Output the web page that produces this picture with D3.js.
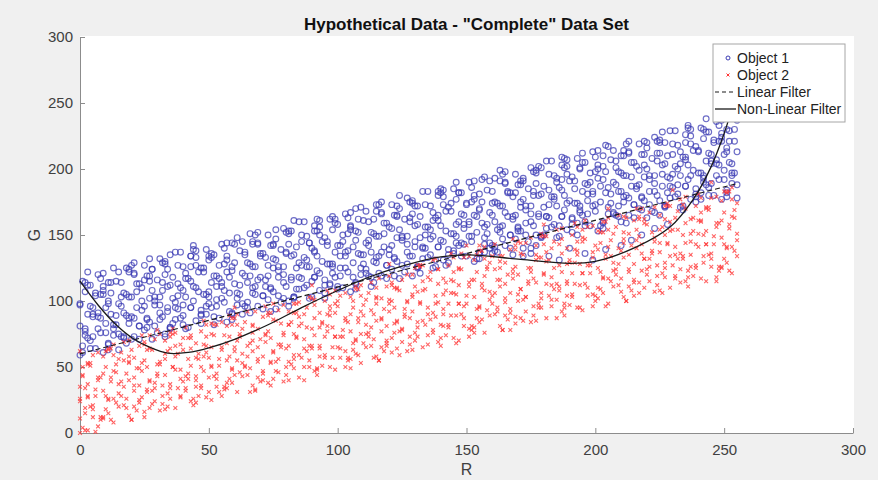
<!DOCTYPE html>
<html>
<head>
<meta charset="utf-8">
<script src="https://cdn.jsdelivr.net/npm/d3@7"></script>
<style>
body { margin: 0; background: #f0f0f0; }
svg { display: block; font-family: "Liberation Sans", Arial, Helvetica, sans-serif; }
</style>
</head>
<body>
<div id="graphdiv"></div>
<script>
document.addEventListener("DOMContentLoaded", init);

var xTicks = [0, 50, 100, 150, 200, 250, 300];
var yTicks = [0, 50, 100, 150, 200, 250, 300];
var legendNames = ["Object 1", "Object 2", "Linear Filter", "Non-Linear Filter"];

// Object 1 (R, G)
var obj1 = [
[0,59],[1,66],[2,74],[0,81],[3,90],[0,98],[2,107],[1,115],
[6,64],[3,72],[7,79],[5,88],[4,96],[6,104],[4,112],[7,120],
[9,61],[11,68],[8,76],[10,83],[7,91],[11,100],[9,108],[8,117],
[11,67],[13,74],[14,82],[12,90],[15,98],[12,106],[14,115],[13,125],
[18,68],[15,75],[19,83],[17,91],[16,96],[18,105],[16,114],[19,122],
[21,73],[23,81],[20,88],[22,95],[19,103],[23,113],[21,121],[20,127],
[23,71],[25,78],[26,86],[24,93],[27,102],[24,110],[26,119],[25,127],
[30,76],[27,84],[31,91],[29,100],[28,108],[30,116],[28,124],[31,132],
[33,73],[35,80],[32,88],[34,95],[31,103],[35,112],[33,120],[32,129],
[35,79],[37,86],[38,94],[36,102],[39,110],[36,118],[38,127],[37,137],
[42,80],[39,87],[43,95],[41,103],[40,108],[42,117],[40,126],[43,134],
[45,85],[47,93],[44,100],[46,107],[43,115],[47,125],[45,133],[44,139],
[47,83],[49,90],[50,98],[48,105],[51,114],[48,122],[50,131],[49,139],
[54,87],[51,95],[55,102],[53,111],[52,119],[54,127],[52,135],[55,143],
[57,84],[59,91],[56,99],[58,106],[55,114],[59,123],[57,131],[56,140],
[59,90],[61,97],[62,105],[60,113],[63,121],[60,129],[62,138],[61,148],
[66,91],[63,98],[67,106],[65,114],[64,119],[66,128],[64,137],[67,145],
[69,96],[71,104],[68,111],[70,118],[67,126],[71,136],[69,144],[68,150],
[71,94],[73,101],[74,109],[72,116],[75,125],[72,133],[74,142],[73,150],
[78,99],[75,107],[79,114],[77,123],[76,131],[78,139],[76,147],[79,155],
[81,96],[83,103],[80,111],[82,118],[79,126],[83,135],[81,143],[80,152],
[83,102],[85,109],[86,117],[84,125],[87,133],[84,141],[86,150],[85,160],
[90,103],[87,110],[91,118],[89,126],[88,131],[90,140],[88,149],[91,157],
[93,108],[95,116],[92,123],[94,130],[91,138],[95,148],[93,156],[92,162],
[95,106],[97,113],[98,121],[96,128],[99,137],[96,145],[98,154],[97,162],
[102,110],[99,118],[103,125],[101,134],[100,142],[102,150],[100,158],[103,166],
[105,107],[107,114],[104,122],[106,129],[103,137],[107,146],[105,154],[104,163],
[107,113],[109,120],[110,128],[108,136],[111,144],[108,152],[110,161],[109,171],
[114,114],[111,121],[115,129],[113,137],[112,142],[114,151],[112,160],[115,168],
[117,119],[119,127],[116,134],[118,141],[115,149],[119,159],[117,167],[116,173],
[119,117],[121,124],[122,132],[120,139],[123,148],[120,156],[122,165],[121,173],
[126,122],[123,130],[127,137],[125,146],[124,154],[126,162],[124,170],[127,178],
[129,119],[131,126],[128,134],[130,141],[127,149],[131,158],[129,166],[128,175],
[131,125],[133,132],[134,140],[132,148],[135,156],[132,164],[134,173],[133,183],
[138,126],[135,133],[139,141],[137,149],[136,154],[138,163],[136,172],[139,180],
[141,131],[143,139],[140,146],[142,153],[139,161],[143,171],[141,179],[140,185],
[143,129],[145,136],[146,144],[144,151],[147,160],[144,168],[146,177],[145,185],
[150,134],[147,142],[151,149],[149,158],[148,166],[150,174],[148,182],[151,190],
[153,130],[155,137],[152,145],[154,152],[151,160],[155,169],[153,177],[152,186],
[155,136],[157,143],[158,151],[156,159],[159,167],[156,175],[158,184],[157,194],
[162,137],[159,144],[163,152],[161,160],[160,165],[162,174],[160,183],[163,191],
[165,142],[167,150],[164,157],[166,164],[163,172],[167,182],[165,190],[164,196],
[167,140],[169,147],[170,155],[168,162],[171,171],[168,179],[170,188],[169,196],
[174,145],[171,153],[175,160],[173,169],[172,177],[174,185],[172,193],[175,201],
[177,142],[179,149],[176,157],[178,164],[175,172],[179,181],[177,189],[176,198],
[179,148],[181,155],[182,163],[180,171],[183,179],[180,187],[182,196],[181,206],
[186,149],[183,156],[187,164],[185,172],[184,177],[186,186],[184,195],[187,203],
[189,154],[191,162],[188,169],[190,176],[187,184],[191,194],[189,202],[188,208],
[191,152],[193,159],[194,167],[192,174],[195,183],[192,191],[194,200],[193,208],
[198,157],[195,165],[199,172],[197,181],[196,189],[198,197],[196,205],[199,213],
[201,153],[203,160],[200,168],[202,175],[199,183],[203,192],[201,200],[200,209],
[203,159],[205,166],[206,174],[204,182],[207,190],[204,198],[206,207],[205,217],
[210,160],[207,167],[211,175],[209,183],[208,188],[210,197],[208,206],[211,214],
[213,165],[215,173],[212,180],[214,187],[211,195],[215,205],[213,213],[212,219],
[215,163],[217,170],[218,178],[216,185],[219,194],[216,202],[218,211],[217,219],
[222,168],[219,176],[223,183],[221,192],[220,200],[222,208],[220,216],[223,224],
[225,165],[227,172],[224,180],[226,187],[223,195],[227,204],[225,212],[224,221],
[227,171],[229,178],[230,186],[228,194],[231,202],[228,210],[230,219],[229,229],
[234,172],[231,179],[235,187],[233,195],[232,200],[234,209],[232,218],[235,226],
[237,177],[239,185],[236,192],[238,199],[235,207],[239,217],[237,225],[236,231],
[239,175],[241,182],[242,190],[240,197],[243,206],[240,214],[242,223],[241,231],
[246,180],[243,188],[247,195],[245,204],[244,212],[246,220],[244,228],[247,236],
[249,177],[251,184],[248,192],[250,199],[247,207],[251,216],[249,224],[248,233],
[251,182],[253,189],[254,197],[252,205],[255,213],[252,221],[254,230],[253,240],
[160,136],[168,135],[172,134],[175,136],[182,134],[186,131],[190,140],[196,136],
[199,131],[204,139],[210,142],[214,146],[218,150],[223,155],[228,158],[157,137]
];

// Object 1, second reading pass
var obj1b = [
[4,64],[2,79],[5,95],[3,112],[5,73],[7,88],[8,105],[9,121],
[11,63],[13,79],[10,95],[9,111],[16,73],[14,89],[17,106],[15,122],
[17,72],[19,87],[20,103],[21,120],[23,81],[25,96],[22,113],[21,129],
[28,71],[26,87],[29,103],[27,119],[29,81],[31,97],[32,114],[33,130],
[35,80],[37,95],[34,111],[33,128],[40,89],[38,104],[41,121],[39,137],
[41,79],[43,95],[44,111],[45,127],[47,89],[49,105],[46,122],[45,138],
[52,88],[50,103],[53,119],[51,136],[53,96],[55,111],[56,128],[57,144],
[59,86],[61,102],[58,118],[57,134],[64,96],[62,112],[65,129],[63,145],
[65,95],[67,110],[68,126],[69,143],[71,104],[73,119],[70,136],[69,152],
[76,94],[74,110],[77,126],[75,142],[77,104],[79,120],[80,137],[81,153],
[83,103],[85,118],[82,134],[81,151],[88,112],[86,127],[89,144],[87,160],
[89,102],[91,118],[92,134],[93,150],[95,112],[97,128],[94,145],[93,161],
[100,111],[98,126],[101,142],[99,159],[101,119],[103,134],[104,151],[105,167],
[107,109],[109,125],[106,141],[105,157],[112,119],[110,135],[113,152],[111,168],
[113,118],[115,133],[116,149],[117,166],[119,127],[121,142],[118,159],[117,175],
[124,117],[122,133],[125,149],[123,165],[125,127],[127,143],[128,160],[129,176],
[131,126],[133,141],[130,157],[129,174],[136,135],[134,150],[137,167],[135,183],
[137,125],[139,141],[140,157],[141,173],[143,135],[145,151],[142,168],[141,184],
[148,134],[146,149],[149,165],[147,182],[149,143],[151,158],[152,175],[153,191],
[155,132],[157,148],[154,164],[153,180],[160,142],[158,158],[161,175],[159,191],
[161,141],[163,156],[164,172],[165,189],[167,150],[169,165],[166,182],[165,198],
[172,140],[170,156],[173,172],[171,188],[173,150],[175,166],[176,183],[177,199],
[179,149],[181,164],[178,180],[177,197],[184,158],[182,173],[185,190],[183,206],
[185,148],[187,164],[188,180],[189,196],[191,158],[193,174],[190,191],[189,207],
[196,157],[194,172],[197,188],[195,205],[197,166],[199,181],[200,198],[201,214],
[203,155],[205,171],[202,187],[201,203],[208,165],[206,181],[209,198],[207,214],
[209,164],[211,179],[212,195],[213,212],[215,173],[217,188],[214,205],[213,221],
[220,163],[218,179],[221,195],[219,211],[221,173],[223,189],[224,206],[225,222],
[227,172],[229,187],[226,203],[225,220],[232,181],[230,196],[233,213],[231,229],
[233,171],[235,187],[236,203],[237,219],[239,181],[241,197],[238,214],[237,230],
[244,180],[242,195],[245,211],[243,228],[245,189],[247,204],[248,221],[249,237],
[251,179],[253,195],[250,211],[249,227],[255,188],[253,204],[254,221],[255,237]
];

// Object 1, third reading pass
var obj1c = [
[1,61],[2,77],[0,97],[2,114],[4,70],[5,90],[6,106],[3,122],
[10,76],[8,87],[9,105],[11,114],[15,63],[13,82],[11,98],[12,114],
[17,73],[18,89],[16,103],[18,125],[20,71],[21,87],[22,107],[19,124],
[26,80],[24,100],[25,116],[27,132],[31,86],[29,97],[27,115],[28,124],
[33,75],[34,92],[32,108],[34,124],[36,83],[37,99],[38,113],[35,135],
[40,82],[40,97],[41,117],[43,134],[47,90],[45,110],[43,126],[44,142],
[49,96],[50,107],[48,125],[50,134],[52,82],[53,101],[54,117],[51,133],
[58,92],[56,108],[57,122],[59,144],[63,90],[61,106],[59,126],[60,143],
[65,99],[66,119],[64,135],[66,151],[68,105],[69,116],[70,134],[67,143],
[74,92],[72,111],[73,127],[75,143],[79,102],[77,118],[75,132],[76,154],
[81,100],[82,116],[80,136],[82,153],[84,109],[85,129],[86,145],[83,161],
[90,115],[88,126],[89,144],[91,153],[95,102],[93,121],[91,137],[92,153],
[97,112],[98,128],[96,142],[98,164],[100,109],[101,125],[102,145],[99,162],
[106,118],[104,138],[105,156],[107,170],[111,124],[109,135],[107,153],[108,162],
[113,111],[114,130],[112,146],[114,162],[116,121],[117,137],[118,151],[115,173],
[122,119],[120,135],[121,155],[123,172],[127,128],[125,148],[123,164],[124,180],
[129,134],[130,145],[128,163],[130,172],[132,121],[133,140],[134,156],[131,172],
[138,131],[136,147],[137,161],[139,183],[142,127],[141,145],[139,165],[140,182],
[145,138],[146,158],[144,174],[146,190],[148,144],[149,155],[150,173],[147,182],
[154,132],[152,149],[153,165],[155,181],[159,140],[157,156],[155,170],[156,192],
[161,138],[162,154],[160,174],[161,193],[164,147],[165,167],[166,183],[163,199],
[170,153],[168,164],[169,182],[171,191],[175,140],[173,159],[171,175],[172,191],
[177,150],[178,166],[176,180],[178,202],[180,150],[181,164],[182,184],[179,201],
[186,157],[184,179],[185,193],[187,209],[191,163],[189,174],[187,192],[188,201],
[193,150],[194,169],[192,185],[194,201],[196,160],[197,176],[198,190],[195,212],
[202,157],[200,173],[201,193],[203,210],[207,166],[205,186],[203,202],[204,218],
[209,172],[210,183],[208,201],[210,210],[212,159],[213,178],[214,194],[211,210],
[218,169],[216,187],[217,199],[219,221],[223,167],[221,183],[219,203],[220,220],
[225,176],[226,196],[224,212],[226,228],[228,182],[229,193],[230,211],[227,220],
[234,169],[232,188],[233,204],[235,220],[239,179],[237,195],[235,209],[236,233],
[241,177],[242,193],[240,213],[242,230],[244,186],[245,206],[246,222],[243,238],
[250,192],[248,203],[249,221],[251,230],[255,178],[253,197],[251,213],[252,229]
];

// Object 2 (R, G)
var obj2 = [
[1,4],[0,11],[2,19],[3,27],[0,35],[1,43],[3,52],[0,62],
[7,5],[5,12],[4,20],[3,28],[6,33],[7,42],[4,51],[5,59],
[8,10],[10,18],[11,25],[9,32],[7,40],[10,50],[9,58],[11,64],
[13,8],[11,15],[14,23],[15,30],[12,39],[13,47],[15,56],[12,64],
[19,13],[17,21],[16,28],[15,37],[18,45],[19,53],[16,61],[17,69],
[20,10],[22,17],[23,25],[21,32],[19,40],[22,49],[21,57],[23,66],
[25,16],[23,23],[26,31],[27,39],[24,47],[25,55],[27,64],[24,74],
[31,17],[29,24],[28,32],[27,40],[30,45],[31,54],[28,63],[29,71],
[32,22],[34,30],[35,37],[33,44],[31,52],[34,62],[33,70],[35,76],
[37,19],[35,26],[38,34],[39,41],[36,50],[37,58],[39,67],[36,75],
[43,24],[41,32],[40,39],[39,48],[42,56],[43,64],[40,72],[41,80],
[44,21],[46,28],[47,36],[45,43],[43,51],[46,60],[45,68],[47,77],
[49,27],[47,34],[50,42],[51,50],[48,58],[49,66],[51,75],[48,85],
[55,28],[53,35],[52,43],[51,51],[54,56],[55,65],[52,74],[53,82],
[56,33],[58,41],[59,48],[57,55],[55,63],[58,73],[57,81],[59,87],
[61,31],[59,38],[62,46],[63,53],[60,62],[61,70],[63,79],[60,87],
[67,36],[65,44],[64,51],[63,60],[66,68],[67,76],[64,84],[65,92],
[68,32],[70,39],[71,47],[69,54],[67,62],[70,71],[69,79],[71,88],
[73,38],[71,45],[74,53],[75,61],[72,69],[73,77],[75,86],[72,96],
[79,39],[77,46],[76,54],[75,62],[78,67],[79,76],[76,85],[77,93],
[80,44],[82,52],[83,59],[81,66],[79,74],[82,84],[81,92],[83,98],
[85,42],[83,49],[86,57],[87,64],[84,73],[85,81],[87,90],[84,98],
[91,47],[89,55],[88,62],[87,71],[90,79],[91,87],[88,95],[89,103],
[92,44],[94,51],[95,59],[93,66],[91,74],[94,83],[93,91],[95,100],
[97,50],[95,57],[98,65],[99,73],[96,81],[97,89],[99,98],[96,108],
[103,50],[101,57],[100,65],[99,73],[102,78],[103,87],[100,96],[101,104],
[104,55],[106,63],[107,70],[105,77],[103,85],[106,95],[105,103],[107,109],
[109,53],[107,60],[110,68],[111,75],[108,84],[109,92],[111,101],[108,109],
[115,58],[113,66],[112,73],[111,82],[114,90],[115,98],[112,106],[113,114],
[116,55],[118,62],[119,70],[117,77],[115,85],[118,94],[117,102],[119,111],
[121,61],[119,68],[122,76],[123,84],[120,92],[121,100],[123,109],[120,119],
[127,62],[125,69],[124,77],[123,85],[126,90],[127,99],[124,108],[125,116],
[128,67],[130,76],[131,84],[129,92],[127,100],[130,111],[129,120],[131,127],
[133,65],[131,73],[134,82],[135,90],[132,99],[133,108],[135,118],[132,127],
[139,69],[137,78],[136,86],[135,95],[138,104],[139,113],[136,122],[137,131],
[140,66],[142,74],[143,82],[141,90],[139,99],[142,108],[141,117],[143,127],
[145,72],[143,80],[146,89],[147,98],[144,106],[145,115],[147,125],[144,136],
[151,73],[149,81],[148,90],[147,98],[150,104],[151,114],[148,124],[149,133],
[152,78],[154,87],[155,95],[153,103],[151,111],[154,122],[153,131],[155,138],
[157,76],[155,84],[158,93],[159,101],[156,110],[157,119],[159,129],[156,138],
[163,81],[161,90],[160,98],[159,107],[162,116],[163,125],[160,134],[161,143],
[164,78],[166,86],[167,94],[165,102],[163,111],[166,120],[165,129],[167,139],
[169,83],[167,91],[170,100],[171,109],[168,117],[169,126],[171,136],[168,147],
[175,84],[173,92],[172,101],[171,109],[174,115],[175,125],[172,135],[173,144],
[176,89],[178,98],[179,106],[177,114],[175,122],[178,133],[177,142],[179,149],
[181,87],[179,95],[182,104],[183,112],[180,121],[181,130],[183,140],[180,149],
[187,92],[185,101],[184,109],[183,118],[186,127],[187,136],[184,145],[185,154],
[188,89],[190,97],[191,105],[189,113],[187,122],[190,131],[189,140],[191,150],
[193,95],[191,103],[194,112],[195,121],[192,129],[193,138],[195,148],[192,159],
[199,96],[197,104],[196,113],[195,121],[198,127],[199,137],[196,147],[197,156],
[200,100],[202,109],[203,117],[201,125],[199,133],[202,144],[201,153],[203,160],
[205,98],[203,106],[206,115],[207,123],[204,132],[205,141],[207,151],[204,160],
[211,103],[209,112],[208,120],[207,129],[210,138],[211,147],[208,156],[209,165],
[212,100],[214,108],[215,116],[213,124],[211,133],[214,142],[213,151],[215,161],
[217,106],[215,114],[218,123],[219,132],[216,140],[217,149],[219,159],[216,170],
[223,107],[221,115],[220,124],[219,132],[222,138],[223,148],[220,158],[221,167],
[224,112],[226,121],[227,129],[225,137],[223,145],[226,156],[225,165],[227,172],
[229,110],[227,118],[230,127],[231,135],[228,144],[229,153],[231,163],[228,172],
[235,115],[233,124],[232,132],[231,141],[234,150],[235,159],[232,168],[233,177],
[236,111],[238,119],[239,127],[237,135],[235,144],[238,153],[237,162],[239,172],
[241,117],[239,125],[242,134],[243,143],[240,151],[241,160],[243,170],[240,181],
[247,118],[245,126],[244,135],[243,143],[246,149],[247,159],[244,169],[245,178],
[248,123],[250,132],[251,140],[249,148],[247,156],[250,167],[249,176],[251,183],
[253,121],[251,129],[254,138],[255,146],[252,155],[253,164],[255,174],[252,183],
[0,0],[2,2],[0,24],[120,128],[150,142],[180,158],[205,170],[230,184],
[245,190],[90,112],[60,95],[30,78]
];

// Object 2, second reading pass
var obj2b = [
[3,2],[5,18],[2,34],[1,50],[8,12],[6,28],[9,45],[7,61],
[9,11],[11,26],[12,42],[13,59],[15,20],[17,35],[14,52],[13,67],
[20,10],[18,26],[21,42],[19,58],[21,20],[23,36],[24,53],[25,69],
[27,19],[29,34],[26,50],[25,67],[32,28],[30,43],[33,60],[31,75],
[33,18],[35,34],[36,50],[37,66],[39,27],[41,43],[38,60],[37,76],
[44,26],[42,41],[45,57],[43,74],[45,35],[47,50],[48,67],[49,82],
[51,25],[53,41],[50,57],[49,73],[56,35],[54,51],[57,68],[55,84],
[57,34],[59,49],[60,65],[61,82],[63,43],[65,58],[62,75],[61,90],
[68,33],[66,49],[69,65],[67,81],[69,42],[71,58],[72,75],[73,91],
[75,41],[77,56],[74,72],[73,89],[80,50],[78,65],[81,82],[79,97],
[81,40],[83,56],[84,72],[85,88],[87,50],[89,66],[86,83],[85,99],
[92,49],[90,64],[93,80],[91,97],[93,58],[95,73],[96,90],[97,105],
[99,48],[101,64],[98,80],[97,96],[104,57],[102,73],[105,90],[103,106],
[105,56],[107,71],[108,87],[109,104],[111,65],[113,80],[110,97],[109,112],
[116,55],[114,71],[117,87],[115,103],[117,65],[119,81],[120,98],[121,114],
[123,64],[125,79],[122,95],[121,112],[128,73],[126,88],[129,105],[127,120],
[129,63],[131,80],[132,98],[133,115],[135,74],[137,91],[134,109],[133,127],
[140,72],[138,88],[141,105],[139,124],[141,81],[143,98],[144,116],[145,133],
[147,70],[149,87],[146,105],[145,122],[152,81],[150,98],[153,116],[151,134],
[153,80],[155,96],[156,113],[157,132],[159,89],[161,106],[158,124],[157,141],
[164,78],[162,95],[165,113],[163,130],[165,89],[167,106],[168,124],[169,142],
[171,87],[173,103],[170,120],[169,139],[176,96],[174,113],[177,131],[175,148],
[177,85],[179,102],[180,120],[181,137],[183,96],[185,113],[182,131],[181,149],
[188,95],[186,111],[189,128],[187,147],[189,104],[191,121],[192,139],[193,156],
[195,93],[197,110],[194,128],[193,145],[200,104],[198,121],[201,139],[199,157],
[201,102],[203,118],[204,135],[205,154],[207,111],[209,128],[206,146],[205,163],
[212,100],[210,117],[213,135],[211,152],[213,111],[215,128],[216,146],[217,164],
[219,110],[221,126],[218,143],[217,162],[224,119],[222,136],[225,154],[223,171],
[225,108],[227,125],[228,143],[229,160],[231,119],[233,136],[230,154],[229,172],
[236,118],[234,134],[237,151],[235,170],[237,126],[239,143],[240,161],[241,178],
[243,115],[245,132],[242,150],[241,167],[248,126],[246,143],[249,161],[247,179],
[249,125],[251,141],[252,158],[253,177],[255,134],[255,151],[254,169],[253,186]
];

// Object 2, third reading pass
var obj2c = [
[2,15],[0,26],[1,44],[3,53],[6,1],[5,21],[3,37],[4,53],
[9,12],[10,28],[8,42],[10,62],[12,10],[13,26],[14,46],[11,63],
[18,19],[16,39],[17,55],[19,70],[24,27],[21,36],[19,54],[20,63],
[25,12],[26,33],[23,49],[26,63],[28,22],[29,38],[30,52],[27,74],
[34,20],[32,36],[33,56],[35,73],[39,28],[37,48],[35,64],[36,79],
[41,34],[42,45],[40,63],[42,72],[45,23],[45,40],[46,56],[43,72],
[50,31],[48,47],[49,61],[51,83],[54,31],[53,45],[51,65],[52,82],
[57,38],[58,58],[56,74],[58,89],[60,44],[61,55],[62,73],[59,82],
[66,31],[64,50],[65,66],[67,82],[71,40],[69,56],[67,70],[68,92],
[74,36],[74,54],[72,74],[74,91],[76,47],[77,67],[78,83],[75,98],
[81,54],[80,64],[81,82],[83,91],[87,40],[85,59],[83,75],[84,91],
[89,50],[90,66],[88,80],[90,102],[92,48],[93,64],[94,84],[91,101],
[98,57],[96,77],[97,93],[99,108],[103,62],[101,73],[99,91],[100,100],
[105,49],[106,68],[104,84],[106,100],[108,59],[109,75],[110,89],[107,111],
[114,57],[112,76],[113,93],[115,110],[119,66],[117,86],[115,102],[116,117],
[121,72],[122,83],[120,101],[122,110],[124,59],[125,78],[126,94],[123,110],
[130,70],[128,87],[129,103],[130,125],[135,67],[133,85],[131,107],[132,126],
[137,76],[138,98],[136,116],[138,132],[140,82],[141,94],[142,114],[139,124],
[146,68],[144,89],[145,106],[147,124],[151,79],[149,96],[147,112],[148,136],
[153,76],[154,94],[152,116],[154,135],[156,86],[157,108],[158,126],[155,142],
[162,92],[160,104],[161,124],[163,134],[167,78],[165,99],[163,116],[164,134],
[169,88],[170,105],[168,121],[170,145],[172,85],[173,103],[174,125],[171,144],
[178,95],[176,117],[177,135],[179,151],[183,101],[181,113],[179,133],[180,143],
[185,87],[186,108],[184,125],[186,143],[188,98],[189,115],[190,129],[187,155],
[194,95],[192,113],[193,135],[195,154],[199,105],[197,127],[195,145],[196,161],
[201,110],[202,122],[200,142],[202,152],[204,96],[205,117],[206,134],[203,152],
[210,107],[208,124],[209,140],[211,164],[215,104],[213,122],[211,144],[212,163],
[217,114],[218,136],[216,154],[218,170],[220,120],[221,132],[222,152],[219,162],
[226,106],[224,127],[225,144],[227,162],[231,117],[229,134],[227,150],[228,174],
[233,114],[234,132],[232,154],[234,173],[236,123],[237,145],[238,163],[235,179],
[242,129],[240,141],[241,161],[243,171],[247,115],[245,136],[243,153],[244,171],
[249,126],[250,143],[248,159],[250,183],[252,123],[253,141],[254,163],[251,182]
];

// linear filter end points
var linR = [0, 255];
var linG = [60, 189];

// non-linear filter
var curveR = [0, 7, 14, 21, 27, 34, 42, 50, 60, 73, 86, 99, 112, 125, 140, 151, 171, 190, 200, 216, 229, 238, 245, 250, 252, 254];
var curveG = [115, 97, 82, 71, 65, 60.5, 61, 64.5, 71, 82, 95, 107, 118, 126.5, 133.5, 135, 131.5, 128.5, 130, 141, 156, 177, 202, 227, 239, 251];

function init() {
    var svg = d3.select("#graphdiv").append("svg").attr("width", 878).attr("height", 480);
    var x = d3.scaleLinear().domain([0, 300]).range([80, 853]);
    var y = d3.scaleLinear().domain([0, 300]).range([433, 37]);

    // white axes area
    svg.append("rect").attr("x", x(0)).attr("y", y(300) - 1).attr("width", x(300) - x(0) + 1).attr("height", y(0) - y(300) + 1).attr("fill", "white");

    // axes (ticks point inward)
    var yAxis = d3.axisLeft(y).tickValues(yTicks).tickSizeInner(-5).tickSizeOuter(0).tickPadding(7);
    var xAxis = d3.axisBottom(x).tickValues(xTicks).tickSizeInner(-5).tickSizeOuter(0).tickPadding(11);
    var gy = svg.append("g").attr("transform", "translate(" + x(0) + ",0)").call(yAxis);
    var gx = svg.append("g").attr("transform", "translate(0," + y(0) + ")").call(xAxis);
    [gx, gy].forEach(function(g) {
        g.selectAll("path, line").attr("stroke", "#8c8c8c");
        g.selectAll("text").attr("fill", "#404040").attr("font-size", 15).attr("font-family", "Liberation Sans, Arial, sans-serif");
    });

    // object 1 circles
    svg.append("g").selectAll("circle").data(obj1.concat(obj1b, obj1c)).enter().append("circle")
        .attr("cx", function(d) { return x(d[0]); })
        .attr("cy", function(d) { return y(d[1]); })
        .attr("r", 2.9)
        .attr("fill", "none").attr("stroke", "#3c3cb4").attr("stroke-width", 1.15).attr("stroke-opacity", 0.75);

    // object 2 crosses
    svg.append("g").selectAll("path").data(obj2.concat(obj2b, obj2c)).enter().append("path")
        .attr("d", function(d) {
            var cx = x(d[0]), cy = y(d[1]), s = 1.9;
            return "M" + (cx - s) + "," + (cy - s) + " L" + (cx + s) + "," + (cy + s) + " M" + (cx - s) + "," + (cy + s) + " L" + (cx + s) + "," + (cy - s);
        })
        .attr("fill", "none").attr("stroke", "#ff3333").attr("stroke-width", 1.1).attr("stroke-opacity", 0.75);

    // filters
    var linPts = linR.map(function(r, i) { return [r, linG[i]]; });
    var curvePts = curveR.map(function(r, i) { return [r, curveG[i]]; });
    var line = d3.line().x(function(d) { return x(d[0]); }).y(function(d) { return y(d[1]); });
    svg.append("path").attr("d", line(linPts)).attr("fill", "none").attr("stroke", "#1a1a1a").attr("stroke-width", 1.2).attr("stroke-dasharray", "5,3");
    svg.append("path").attr("d", line.curve(d3.curveCatmullRom.alpha(0.5))(curvePts)).attr("fill", "none").attr("stroke", "#1a1a1a").attr("stroke-width", 1.3);

    // title and labels
    svg.append("text").attr("x", (x(0) + x(300)) / 2).attr("y", 30).attr("text-anchor", "middle")
        .attr("font-size", 17).attr("font-weight", "bold").attr("fill", "#111").text('Hypothetical Data - "Complete" Data Set');
    svg.append("text").attr("x", (x(0) + x(300)) / 2).attr("y", 475).attr("text-anchor", "middle")
        .attr("font-size", 16).attr("fill", "#404040").text("R");
    svg.append("text").attr("transform", "translate(40," + (y(0) + y(300)) / 2 + ") rotate(-90)").attr("text-anchor", "middle")
        .attr("font-size", 16).attr("fill", "#404040").text("G");

    // legend
    var lg = svg.append("g").attr("transform", "translate(713,44)");
    lg.append("rect").attr("width", 132).attr("height", 78).attr("fill", "white").attr("stroke", "#a6a6a6");
    var rows = lg.selectAll("g.row").data(legendNames).enter().append("g").attr("class", "row")
        .attr("transform", function(d, i) { return "translate(0," + (14 + i * 17) + ")"; });
    rows.append("text").attr("x", 24).attr("y", 5).attr("font-size", 14).attr("fill", "#222").text(function(d) { return d; });
    lg.append("circle").attr("cx", 15).attr("cy", 14).attr("r", 2).attr("fill", "none").attr("stroke", "#3c3cb4");
    lg.append("path").attr("d", "M13.5,29.5 L16.5,32.5 M13.5,32.5 L16.5,29.5").attr("stroke", "#ff3333").attr("fill", "none");
    lg.append("path").attr("d", "M2,48 L22,48").attr("stroke", "#1a1a1a").attr("stroke-width", 1.2).attr("stroke-dasharray", "4,3");
    lg.append("path").attr("d", "M2,65 L23,65").attr("stroke", "#1a1a1a").attr("stroke-width", 1.3);
}
</script>
</body>
</html>
